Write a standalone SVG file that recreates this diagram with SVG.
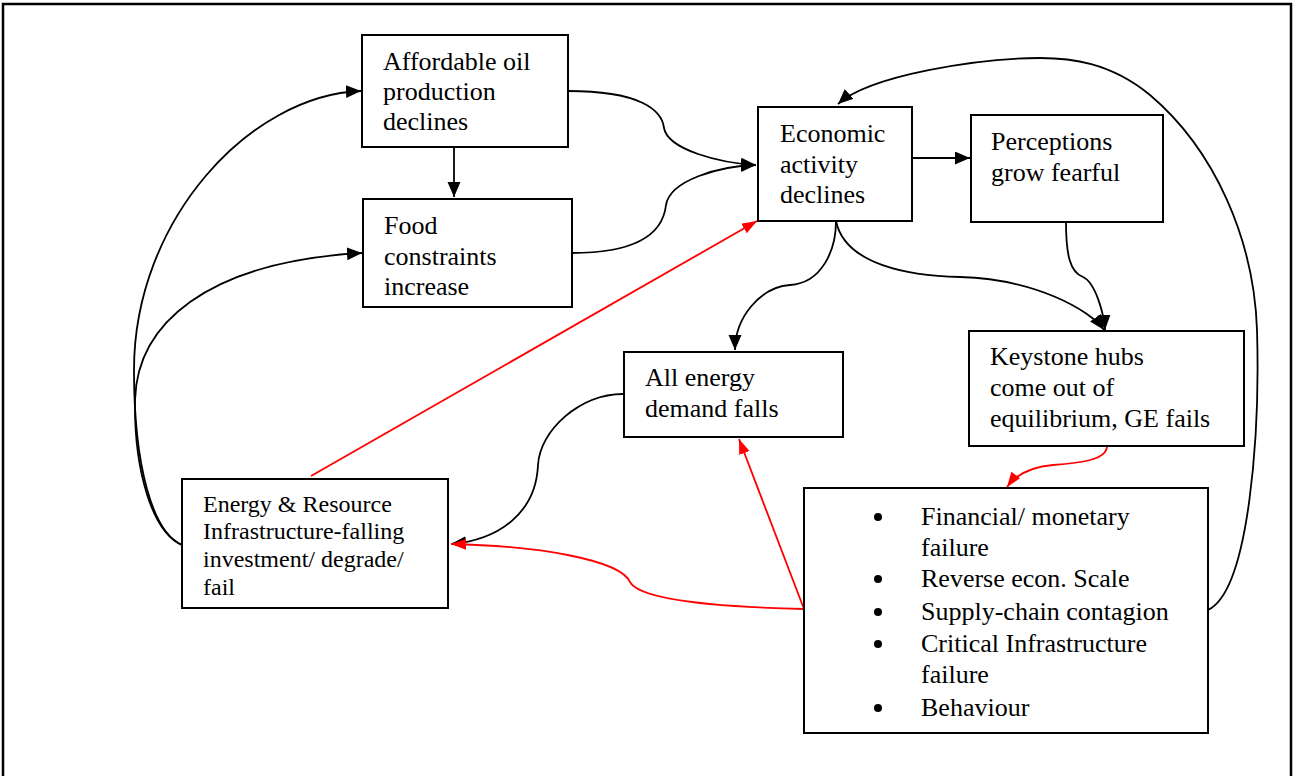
<svg xmlns="http://www.w3.org/2000/svg" width="1295" height="776" viewBox="0 0 1295 776">
<style>
.box{fill:#fff;stroke:#000;stroke-width:2}
.t{font-family:"Liberation Serif","Times New Roman",serif;font-size:26px;fill:#000}
.ts{font-family:"Liberation Serif","Times New Roman",serif;font-size:24px;fill:#000}
.c{fill:none;stroke:#000;stroke-width:1.8}
.r{fill:none;stroke:#f00;stroke-width:1.8}
</style>
<defs>
<marker id="ab" markerUnits="userSpaceOnUse" markerWidth="16" markerHeight="14" refX="15" refY="6.5" orient="auto">
<path d="M0,0 L15,6.5 L0,13 z" fill="#000"/>
</marker>
<marker id="ar" markerUnits="userSpaceOnUse" markerWidth="16" markerHeight="12" refX="15" refY="5.5" orient="auto">
<path d="M0,0 L15,5.5 L0,11 z" fill="#f00"/>
</marker>
</defs>
<rect x="0" y="0" width="1295" height="776" fill="#fff"/>
<path d="M3,778 L3,4 L1291,4 L1291,778" fill="none" stroke="#000" stroke-width="2.5"/>

<g id="connectors">
<path class="c" d="M568,91 C640,91 662,110 664,128 C668,150 720,163 756,165" marker-end="url(#ab)"/>
<path class="c" d="M572,253 C640,253 663,232 666,205 C670,180 720,166 756,165" marker-end="url(#ab)"/>
<path class="c" d="M454,147 L454,197" marker-end="url(#ab)"/>
<path class="c" d="M912,158 L970,158" marker-end="url(#ab)"/>
<path class="c" d="M836,221 C836,250 822,283 790,285 C760,287 735,318 735,350" marker-end="url(#ab)"/>
<path class="c" d="M836,221 C845,265 910,276 960,277 C1035,279 1090,310 1104,330" marker-end="url(#ab)"/>
<path class="c" d="M1066,222 C1066,255 1070,272 1083,277 C1096,283 1104,315 1105,330" marker-end="url(#ab)"/>
<path class="c" d="M1208,610 C1250,590 1260,430 1257,330 C1254,240 1215,150 1150,95 C1110,62 1070,58 1040,58 C980,58 870,75 838,104" marker-end="url(#ab)"/>
<path class="c" d="M182,545 C152,532 134,465 134,370 C134,220 250,95 361,91" marker-end="url(#ab)"/>
<path class="c" d="M182,545 C152,532 134,470 135,400 C137,325 205,262 362,253" marker-end="url(#ab)"/>
<path class="c" d="M623,394 C580,394 540,430 538,465 C536,512 500,540 451,544" marker-end="url(#ab)"/>
<path class="r" d="M311,476 L757,221" marker-end="url(#ar)"/>
<path class="r" d="M1107,446 C1107,460 1080,463 1053,465 C1030,467 1015,476 1007,487" marker-end="url(#ar)"/>
<path class="r" d="M804,609 L739,439" marker-end="url(#ar)"/>
<path class="r" d="M804,609 C720,607 640,600 630,582 C620,560 540,546 451,544" marker-end="url(#ar)"/>
</g>

<g id="affordable">
<rect class="box" x="362" y="35" width="206" height="112"/>
<text class="t" x="383" y="70">Affordable oil</text>
<text class="t" x="383" y="100">production</text>
<text class="t" x="383" y="130">declines</text>
</g>
<g id="food">
<rect class="box" x="363" y="199" width="209" height="108"/>
<text class="t" x="384" y="234">Food</text>
<text class="t" x="384" y="265">constraints</text>
<text class="t" x="384" y="295">increase</text>
</g>
<g id="economic">
<rect class="box" x="758" y="107" width="154" height="114"/>
<text class="t" x="780" y="142">Economic</text>
<text class="t" x="780" y="173">activity</text>
<text class="t" x="780" y="203">declines</text>
</g>
<g id="perceptions">
<rect class="box" x="971" y="115" width="192" height="107"/>
<text class="t" x="991" y="150">Perceptions</text>
<text class="t" x="991" y="181">grow fearful</text>
</g>
<g id="keystone">
<rect class="box" x="969" y="331" width="275" height="115"/>
<text class="t" x="990" y="365">Keystone hubs</text>
<text class="t" x="990" y="396">come out of</text>
<text class="t" x="990" y="427">equilibrium, GE fails</text>
</g>
<g id="allenergy">
<rect class="box" x="624" y="352" width="219" height="85"/>
<text class="t" x="645" y="386">All energy</text>
<text class="t" x="645" y="417">demand falls</text>
</g>
<g id="infrastructure">
<rect class="box" x="182" y="479" width="266" height="129"/>
<text class="ts" x="203" y="512">Energy &amp; Resource</text>
<text class="ts" x="203" y="539">Infrastructure-falling</text>
<text class="ts" x="203" y="567">investment/ degrade/</text>
<text class="ts" x="203" y="595">fail</text>
</g>
<g id="failures">
<rect class="box" x="804" y="488" width="404" height="245"/>
<circle cx="878" cy="517" r="4"/>
<circle cx="878" cy="579" r="4"/>
<circle cx="878" cy="612" r="4"/>
<circle cx="878" cy="644" r="4"/>
<circle cx="878" cy="708" r="4"/>
<text class="t" x="921" y="525">Financial/ monetary</text>
<text class="t" x="921" y="556">failure</text>
<text class="t" x="921" y="587">Reverse econ. Scale</text>
<text class="t" x="921" y="620">Supply-chain contagion</text>
<text class="t" x="921" y="652">Critical Infrastructure</text>
<text class="t" x="921" y="683">failure</text>
<text class="t" x="921" y="716">Behaviour</text>
</g>
</svg>
